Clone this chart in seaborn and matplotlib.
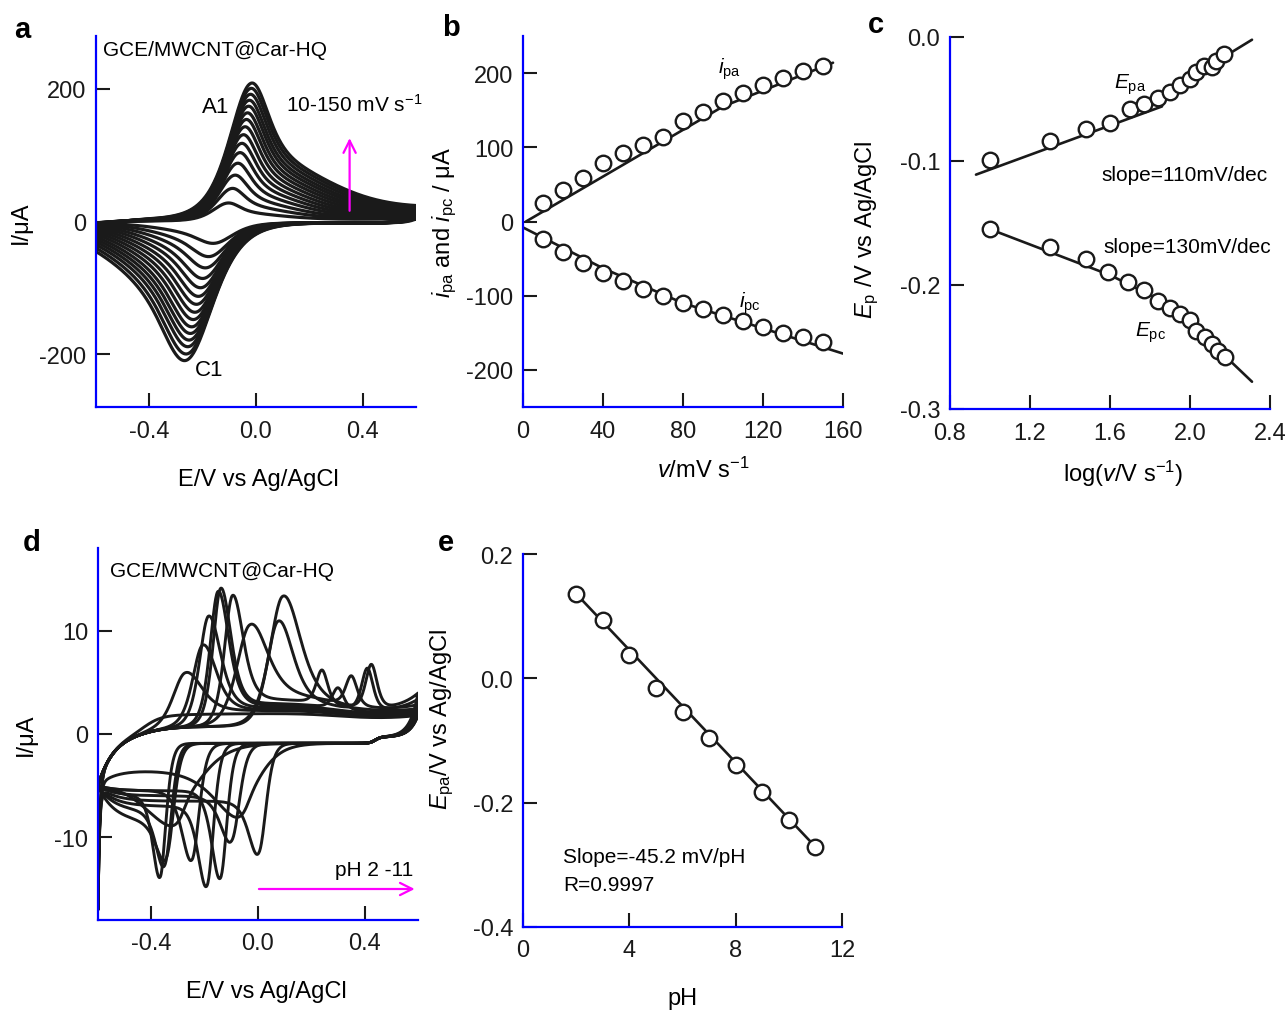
import numpy as np
import pandas as pd
import matplotlib
matplotlib.use("Agg")
import matplotlib.pyplot as plt
import seaborn as sns

sns.set_theme(style="white")
plt.rcParams["font.family"] = ["Liberation Sans", "DejaVu Sans"]
plt.rcParams["mathtext.fontset"] = "custom"
plt.rcParams["mathtext.rm"] = "Liberation Sans"
plt.rcParams["mathtext.it"] = "Liberation Sans:italic"
plt.rcParams["mathtext.bf"] = "Liberation Sans:bold"
plt.rcParams["axes.unicode_minus"] = False
for key in ["text.color", "axes.labelcolor", "xtick.color", "ytick.color"]:
    plt.rcParams[key] = "black"

# ---------------- data ----------------
# panel a : CV peak parameters (10-150 mV/s)
a_epa = [-0.103, -0.088, -0.078, -0.068, -0.060, -0.053, -0.047, -0.041, -0.036, -0.032, -0.028, -0.025, -0.021, -0.018, -0.015]
a_ipa = [28, 50, 70, 88, 104, 118, 131, 143, 154, 164, 174, 183, 192, 201, 209]
a_epc = [-0.161, -0.178, -0.190, -0.200, -0.208, -0.216, -0.223, -0.229, -0.235, -0.241, -0.246, -0.251, -0.256, -0.262, -0.268]
a_ipc = [-31, -51, -68, -84, -98, -111, -123, -135, -146, -157, -167, -177, -187, -198, -208]
a_iend = [4, 6, 7.5, 9, 10, 11, 12, 13, 14, 15, 16, 17, 18, 19, 20]

# panel b : peak currents vs scan rate
b_v = [10, 20, 30, 40, 50, 60, 70, 80, 90, 100, 110, 120, 130, 140, 150]
b_ipa = [24.6, 42, 59, 79.5, 92, 103, 114, 136, 147, 162.5, 173, 184, 194, 203, 209]
b_ipc = [-23.7, -41, -56, -69, -80, -91.5, -101, -110, -118, -126, -134, -142, -150, -156, -162.5]
b_fit_a_v = [1.5, 100, 155]
b_fit_a_i = [0, 155, 214]
b_fit_c_v = [0, 40, 80, 160]
b_fit_c_i = [-8, -63, -110, -178]

# panel c : peak potentials vs log(scan rate)
c_logv = [1.0, 1.30, 1.48, 1.60, 1.70, 1.77, 1.84, 1.90, 1.95, 2.0, 2.03, 2.07, 2.11, 2.13, 2.17]
c_epa = [-0.099, -0.084, -0.074, -0.069, -0.058, -0.054, -0.049, -0.044, -0.039, -0.034, -0.0285, -0.023, -0.0245, -0.019, -0.0137]
c_logv_c = [1.0, 1.30, 1.48, 1.59, 1.69, 1.77, 1.84, 1.90, 1.95, 2.0, 2.03, 2.075, 2.11, 2.14, 2.175]
c_epc = [-0.1546, -0.1694, -0.1793, -0.1893, -0.1978, -0.2038, -0.2127, -0.2188, -0.2234, -0.228, -0.2368, -0.2422, -0.2476, -0.253, -0.2583]
c_fit_a1_x = [0.93, 1.86]
c_fit_a1_y = [-0.111, -0.056]
c_fit_a2_x = [1.84, 2.31]
c_fit_a2_y = [-0.0486, -0.0022]
c_fit_c_x = [1.0, 1.6, 1.85, 2.05, 2.31]
c_fit_c_y = [-0.155, -0.192, -0.212, -0.238, -0.278]

# panel d : CVs at pH 2-11 (peak parameters)
d_ph = [2, 3, 4, 5, 6, 7, 8, 9, 10, 11]
d_ea = [0.091, 0.074, -0.034, -0.096, -0.140, -0.150, -0.186, -0.208, -0.275, -0.42]
d_ia = [13.3, 10.9, 10.5, 13.4, 14.1, 13.8, 11.4, 8.6, 5.9, 0.8]
d_wa = [0.065, 0.055, 0.065, 0.040, 0.038, 0.040, 0.045, 0.050, 0.060, 0.08]
d_ea2 = [0.425, 0.410, 0.350, 0.240, 0.300, 0.0, 0.0, 0.0, 0.0, 0.0]
d_ia2 = [4.2, 4.0, 2.8, 3.2, 2.0, 0.0, 0.0, 0.0, 0.0, 0.0]
d_plat = [2.6, 2.4, 3.0, 2.6, 2.2, 2.0, 1.8, 1.6, 1.5, 1.2]
d_rup = [1.8, 1.3, 0.5, 0.3, 0.3, 0.2, 0.2, 0.2, 0.2, 0.3]
d_ec = [0.005, -0.060, -0.096, -0.140, -0.190, -0.246, -0.341, -0.348, -0.366, -0.30]
d_ic = [-11.4, -7.8, -10.2, -13.9, -14.6, -12.1, -11.8, -12.6, -13.8, -8.5]
d_wc = [0.040, 0.110, 0.045, 0.035, 0.035, 0.040, 0.040, 0.035, 0.030, 0.14]
d_cplat = [-6.5, -3.5, -6.0, -5.5, -7.0, -5.5, -8.5, -7.5, -6.0, -4.0]
d_her = [12, 12, 0, 0, 10, 0, 0, 0, 0, 0]

# panel e : Epa vs pH
e_ph = [2, 3, 4, 5, 6, 7, 8, 9, 10, 11]
e_epa = [0.136, 0.094, 0.038, -0.0155, -0.0547, -0.0965, -0.1394, -0.1834, -0.2273, -0.2708]
e_fit_ph = [2, 11]
e_fit_epa = [0.136, -0.271]


def sech2(u):
    return 1.0 / np.cosh(np.clip(u, -50, 50)) ** 2


def logistic(u):
    return 1.0 / (1.0 + np.exp(-np.clip(u, -60, 60)))


# ---------- build CV curves for panel a ----------
E = np.linspace(-0.6, 0.6, 500)
rows = []
n = len(a_epa)
for k in range(n):
    wf = 0.7 + 0.3 * k / (n - 1)
    ea, ia, ec, ic, iend = a_epa[k], a_ipa[k], a_epc[k], a_ipc[k], a_iend[k]
    Er = E[::-1]
    dxc = Er - ec
    sc = np.where(dxc > 0, sech2(dxc / (0.14 * wf)),
                  0.5 * sech2(dxc / (0.11 * wf)) + 0.5 * np.exp(-(dxc / (0.35 * wf)) ** 2))
    dx = E - ea
    sa = np.where(dx < 0, sech2(dx / (0.11 * wf)),
                  0.55 * sech2(dx / (0.08 * wf)) + 0.45 * np.exp(-(dx / (0.35 * wf)) ** 2))
    base_f = iend * (E + 0.6) / 1.2
    amp = ia - iend * (ea + 0.6) / 1.2
    ir_core = ic * sc - 2.0 * (1 - np.exp(-(0.6 - Er) / 0.03))
    lend = ir_core[-1]
    i_f = base_f + amp * sa + lend * np.exp(-(E + 0.6) / 0.03)
    ir = ir_core + i_f[-1] * np.exp(-(0.6 - Er) / 0.03)
    Eall = np.concatenate([E, Er])
    Iall = np.concatenate([i_f, ir])
    for j in range(len(Eall)):
        rows.append((k, j, Eall[j], Iall[j]))
df_a = pd.DataFrame(rows, columns=["curve", "order", "E", "I"])

# ---------- build CV curves for panel d ----------
Ed = np.linspace(-0.6, 0.6, 700)
rows = []
for k in range(len(d_ph)):
    ea, ia, wa = d_ea[k], d_ia[k], d_wa[k]
    fb = (-5 * np.exp(-(Ed + 0.6) / 0.06) - d_her[k] * np.exp(-(Ed + 0.6) / 0.006)
          + 0.6 * logistic((Ed + 0.42) / 0.05) + 0.3 * (Ed + 0.6)
          + d_plat[k] * logistic((Ed - ea) / 0.03) * (1 - 0.55 * logistic((Ed - 0.3) / 0.08))
          + d_rup[k] * np.exp(-(0.6 - Ed) / 0.08))
    if d_ia2[k] > 0:
        fb = fb + d_ia2[k] * sech2((Ed - d_ea2[k]) / 0.028)
    i_at = np.interp(ea, Ed, fb)
    dx = Ed - ea
    pk = np.where(dx < 0, sech2(dx / wa), sech2(dx / (1.3 * wa)))
    i_f = fb + (ia - i_at) * pk
    Er = Ed[::-1]
    ec, ic, wc = d_ec[k], d_ic[k], d_wc[k]
    rb = (i_f[-1] * np.exp(-(0.6 - Er) / 0.03) - 0.3 * (1 - np.exp(-(0.6 - Er) / 0.03))
          - 0.6 * logistic((0.44 - Er) / 0.01))
    plat = d_cplat[k] + 0.9
    plat_eff = plat + (-4.1 - plat) * np.exp(-(Er + 0.6) / 0.06)
    rb = rb + plat_eff * logistic((ec + 0.02 - Er) / 0.015) - d_her[k] * np.exp(-(Er + 0.6) / 0.006)
    r_at = np.interp(ec, Ed, rb[::-1])
    dxc = Er - ec
    pc = np.where(dxc > 0, sech2(dxc / (0.9 * wc)), sech2(dxc / (1.2 * wc)))
    ir = rb + (ic - r_at) * pc
    Eall = np.concatenate([Ed, Er])
    Iall = np.concatenate([i_f, ir])
    for j in range(len(Eall)):
        rows.append((k, j, Eall[j], Iall[j]))
df_d = pd.DataFrame(rows, columns=["curve", "order", "E", "I"])

df_b_a = pd.DataFrame({"v": b_v, "i": b_ipa})
df_b_c = pd.DataFrame({"v": b_v, "i": b_ipc})
df_c_a = pd.DataFrame({"x": c_logv, "y": c_epa})
df_c_c = pd.DataFrame({"x": c_logv_c, "y": c_epc})
df_e = pd.DataFrame({"pH": e_ph, "E": e_epa})

# ---------------- figure ----------------
W, H = 1286, 1012
fig = plt.figure(figsize=(W / 100, H / 100), dpi=100)


def rect(x0, y0, x1, y1):
    return [x0 / W, 1 - y1 / H, (x1 - x0) / W, (y1 - y0) / H]


FS = 17
TS = 15
BLUE = "#0000ff"


def style(ax):
    for s in ["top", "right"]:
        ax.spines[s].set_visible(False)
    for s in ["left", "bottom"]:
        ax.spines[s].set_color(BLUE)
        ax.spines[s].set_linewidth(1.6)
    ax.tick_params(direction="in", length=10, width=1.5, colors="k", labelsize=FS,
                   left=True, bottom=True, top=False, right=False)
    ax.tick_params(axis="x", pad=9)
    ax.tick_params(axis="y", pad=7)
    ax.grid(False)
    ax.set_facecolor("white")


mk = dict(marker="o", s=125, facecolor="white", edgecolor="k", linewidth=1.7, zorder=3)
lw = 1.9

# ----- a -----
axa = fig.add_axes(rect(96, 37, 416, 408))
sns.lineplot(data=df_a, x="E", y="I", units="curve", estimator=None, sort=False,
             color="k", lw=2.3, ax=axa)
axa.set_xlim(-0.6, 0.6)
axa.set_ylim(-280, 280)
axa.set_xticks([-0.4, 0.0, 0.4])
axa.set_xticklabels(["-0.4", "0.0", "0.4"])
axa.set_yticks([-200, 0, 200])
style(axa)
axa.set_xlabel("E/V vs Ag/AgCl", fontsize=FS)
axa.set_ylabel("I/μA", fontsize=FS)
axa.xaxis.set_label_coords(0.506, -0.165)
axa.yaxis.set_label_coords(-0.2, 0.5)
axa.text(-0.575, 260, "GCE/MWCNT@Car-HQ", fontsize=TS, va="center", ha="left")
axa.text(-0.151, 174, "A1", fontsize=16, ha="center", va="center")
axa.text(-0.177, -224, "C1", fontsize=16, ha="center", va="center")
axa.text(0.37, 177, "10-150 mV s$^{-1}$", fontsize=TS, ha="center", va="center")
axa.annotate("", xy=(0.351, 130), xytext=(0.351, 12),
             arrowprops=dict(arrowstyle="->", color="magenta", lw=1.6, mutation_scale=22))

# ----- b -----
axb = fig.add_axes(rect(523, 37, 843, 408))
sns.lineplot(x=b_fit_a_v, y=b_fit_a_i, color="k", lw=lw, sort=False, ax=axb)
sns.lineplot(x=b_fit_c_v, y=b_fit_c_i, color="k", lw=lw, sort=False, ax=axb)
sns.scatterplot(data=df_b_a, x="v", y="i", ax=axb, **mk)
sns.scatterplot(data=df_b_c, x="v", y="i", ax=axb, **mk)
axb.set_xlim(0, 160)
axb.set_ylim(-250, 250)
axb.set_xticks([0, 40, 80, 120, 160])
axb.set_yticks([-200, -100, 0, 100, 200])
style(axb)
axb.set_xlabel("$v$/mV s$^{-1}$", fontsize=FS)
axb.set_ylabel("$i_{\\rm pa}$ and $i_{\\rm pc}$ / μA", fontsize=FS)
axb.xaxis.set_label_coords(0.5625, -0.135)
axb.yaxis.set_label_coords(-0.2, 0.5)
axb.text(103, 207, "$i_{\\rm pa}$", fontsize=15, ha="center", va="center")
axb.text(113.5, -109, "$i_{\\rm pc}$", fontsize=15, ha="center", va="center")

# ----- c -----
axc = fig.add_axes(rect(950, 38, 1270, 410))
sns.lineplot(x=c_fit_a1_x, y=c_fit_a1_y, color="k", lw=lw, sort=False, ax=axc)
sns.lineplot(x=c_fit_a2_x, y=c_fit_a2_y, color="k", lw=lw, sort=False, ax=axc)
sns.lineplot(x=c_fit_c_x, y=c_fit_c_y, color="k", lw=lw, sort=False, ax=axc)
sns.scatterplot(data=df_c_a, x="x", y="y", ax=axc, **mk)
sns.scatterplot(data=df_c_c, x="x", y="y", ax=axc, **mk)
axc.set_xlim(0.8, 2.4)
axc.set_ylim(-0.3, 0.0)
axc.set_xticks([0.8, 1.2, 1.6, 2.0, 2.4])
axc.set_xticklabels(["0.8", "1.2", "1.6", "2.0", "2.4"])
axc.set_yticks([-0.3, -0.2, -0.1, 0.0])
axc.set_yticklabels(["-0.3", "-0.2", "-0.1", "0.0"])
style(axc)
axc.set_xlabel("log($v$/V s$^{-1}$)", fontsize=FS)
axc.set_ylabel("$E_{\\rm p}$ /V vs Ag/AgCl", fontsize=FS)
axc.xaxis.set_label_coords(0.54, -0.13)
axc.yaxis.set_label_coords(-0.215, 0.484)
axc.text(1.7, -0.038, "$E_{\\rm pa}$", fontsize=15, ha="center", va="center")
axc.text(1.8, -0.238, "$E_{\\rm pc}$", fontsize=15, ha="center", va="center")
axc.text(1.975, -0.1105, "slope=110mV/dec", fontsize=TS, ha="center", va="center")
axc.text(1.985, -0.169, "slope=130mV/dec", fontsize=TS, ha="center", va="center")

# ----- d -----
axd = fig.add_axes(rect(98, 549, 418, 921))
sns.lineplot(data=df_d, x="E", y="I", units="curve", estimator=None, sort=False,
             color="k", lw=2.1, ax=axd)
axd.set_xlim(-0.6, 0.6)
axd.set_ylim(-18, 18)
axd.set_xticks([-0.4, 0.0, 0.4])
axd.set_xticklabels(["-0.4", "0.0", "0.4"])
axd.set_yticks([-10, 0, 10])
style(axd)
axd.set_xlabel("E/V vs Ag/AgCl", fontsize=FS)
axd.set_ylabel("I/μA", fontsize=FS)
axd.xaxis.set_label_coords(0.525, -0.16)
axd.yaxis.set_label_coords(-0.19, 0.5)
axd.text(-0.556, 15.8, "GCE/MWCNT@Car-HQ", fontsize=TS, ha="left", va="center")
axd.text(0.583, -13.1, "pH 2 -11", fontsize=TS, ha="right", va="center")
axd.annotate("", xy=(0.598, -15.0), xytext=(-0.007, -15.0),
             arrowprops=dict(arrowstyle="->", color="magenta", lw=1.6, mutation_scale=22))

# ----- e -----
axe = fig.add_axes(rect(523, 555, 842, 928))
sns.lineplot(x=e_fit_ph, y=e_fit_epa, color="k", lw=lw, sort=False, ax=axe)
sns.scatterplot(data=df_e, x="pH", y="E", ax=axe, **mk)
axe.set_xlim(0, 12)
axe.set_ylim(-0.4, 0.2)
axe.set_xticks([0, 4, 8, 12])
axe.set_yticks([-0.4, -0.2, 0.0, 0.2])
axe.set_yticklabels(["-0.4", "-0.2", "0.0", "0.2"])
style(axe)
axe.set_xlabel("pH", fontsize=FS)
axe.set_ylabel("$E_{\\rm pa}$/V vs Ag/AgCl", fontsize=FS)
axe.xaxis.set_label_coords(0.5, -0.16)
axe.yaxis.set_label_coords(-0.21, 0.558)
axe.text(1.5, -0.287, "Slope=-45.2 mV/pH", fontsize=TS, ha="left", va="center")
axe.text(1.5, -0.332, "R=0.9997", fontsize=TS, ha="left", va="center")

# panel letters
for lab, (px, py) in {"a": (22, 30), "b": (451, 28), "c": (876, 25), "d": (32, 543), "e": (446, 543)}.items():
    fig.text(px / W, 1 - py / H, lab, fontsize=21, fontweight="bold", ha="center", va="center")

fig.savefig("out.png", dpi=100, facecolor="white")
